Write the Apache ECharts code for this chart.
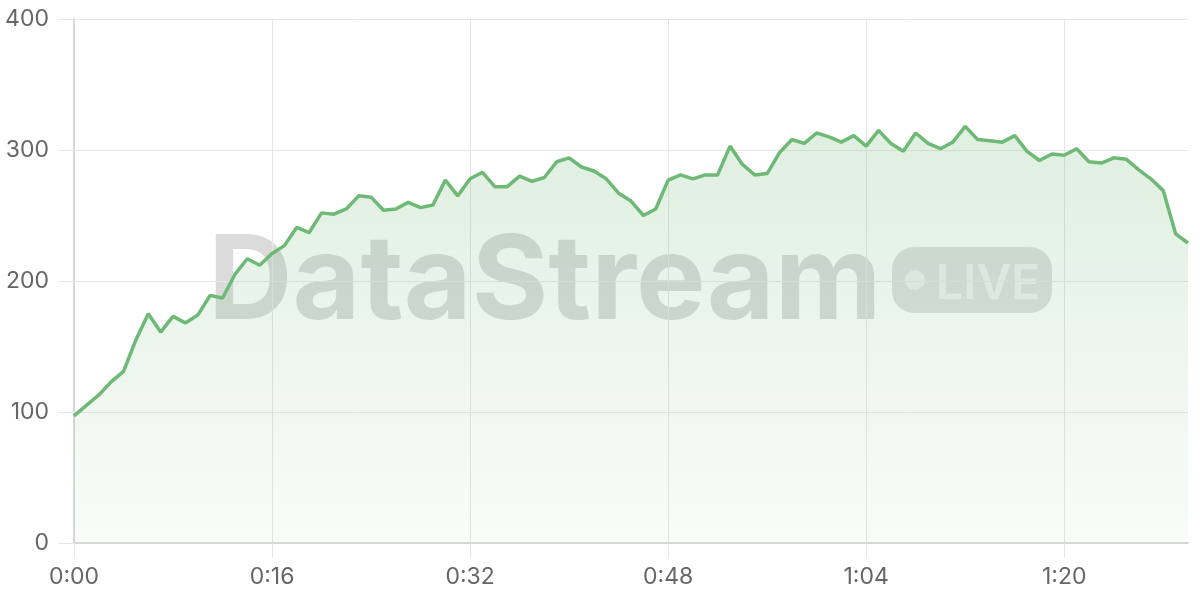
<!DOCTYPE html>
<html>
<head>
<meta charset="utf-8">
<title>DataStream live</title>
<script src="https://cdn.jsdelivr.net/npm/echarts@6/dist/echarts.min.js"></script>
<style>
  html, body { margin: 0; padding: 0; background: #fff; }
  #main { width: 1200px; height: 600px; }
</style>
</head>
<body>
<div id="main"></div>
<script>
// one reading per second, 0:00 .. 1:30
var values = [
  97, 105, 113, 123, 131, 155, 175, 161, 173, 168,
  174, 189, 187, 205, 217, 212, 221, 227, 241, 237,
  252, 251, 255, 265, 264, 254, 255, 260, 256, 258,
  277, 265, 278, 283, 272, 272, 280, 276, 279, 291,
  294, 287, 284, 278, 267, 261, 250, 255, 277, 281,
  278, 281, 281, 303, 289, 281, 282, 298, 308, 305,
  313, 310, 306, 311, 303, 315, 305, 299, 313, 305,
  301, 306, 318, 308, 307, 306, 311, 299, 292, 297,
  296, 301, 291, 290, 294, 293, 285, 278, 269, 236,
  229
];
var yTicks = [0, 100, 200, 300, 400];

function fmt(sec) {
  var m = Math.floor(sec / 60), s = sec % 60;
  return m + ':' + (s < 10 ? '0' + s : s);
}
var timeLabels = values.map(function (v, i) { return fmt(i); });

var green = '#6eb975';
var myChart = echarts.init(document.getElementById('main'));
myChart.setOption({
  animation: false,
  textStyle: { fontFamily: 'Inter, "Noto Sans", sans-serif' },
  grid: { left: 74, right: 12, top: 19, bottom: 57 },
  xAxis: {
    type: 'category',
    boundaryGap: false,
    data: timeLabels,
    axisLine: { lineStyle: { color: '#cfcfcf', width: 1.5 } },
    axisTick: { show: true, interval: 15, length: 15, lineStyle: { color: '#e6e6e6' } },
    axisLabel: { interval: 15, color: '#666', fontSize: 23, margin: 23 },
    splitLine: { show: true, interval: 15, lineStyle: { color: '#e6e6e6' } }
  },
  yAxis: {
    type: 'value',
    min: yTicks[0],
    max: yTicks[yTicks.length - 1],
    interval: 100,
    axisLine: { show: true, lineStyle: { color: '#cfcfcf', width: 1.5 } },
    axisTick: { show: true, length: 16, lineStyle: { color: '#e6e6e6' } },
    axisLabel: { color: '#666', fontSize: 23, margin: 25 },
    splitLine: { lineStyle: { color: '#e6e6e6' } }
  },
  series: [{
    type: 'line',
    z: 3,
    data: values,
    symbol: 'none',
    lineStyle: { color: green, width: 3.5 },
    areaStyle: {
      color: new echarts.graphic.LinearGradient(0, 0, 0, 1, [
        { offset: 0, color: 'rgba(110,185,117,0.32)' },
        { offset: 1, color: 'rgba(110,185,117,0.06)' }
      ])
    }
  }],
  graphic: [{
    type: 'group',
    z: 1,
    children: [{
      type: 'text',
      x: 208,
      y: 284,
      style: {
        text: 'DataStream',
        font: 'bold 117px Inter, "Noto Sans", sans-serif',
        fill: 'rgba(0,0,0,0.14)',
        verticalAlign: 'middle'
      }
    }, {
      type: 'rect',
      shape: { x: 892, y: 247, width: 160, height: 66, r: 22 },
      style: { fill: 'rgba(0,0,0,0.12)' }
    }, {
      type: 'circle',
      shape: { cx: 915, cy: 280, r: 10 },
      style: { fill: 'rgba(255,255,255,0.55)' }
    }, {
      type: 'text',
      x: 936,
      y: 285,
      style: {
        text: 'LIVE',
        font: '600 48px Inter, "Noto Sans", sans-serif',
        fill: 'rgba(255,255,255,0.55)',
        verticalAlign: 'middle'
      }
    }]
  }]
});
</script>
</body>
</html>
